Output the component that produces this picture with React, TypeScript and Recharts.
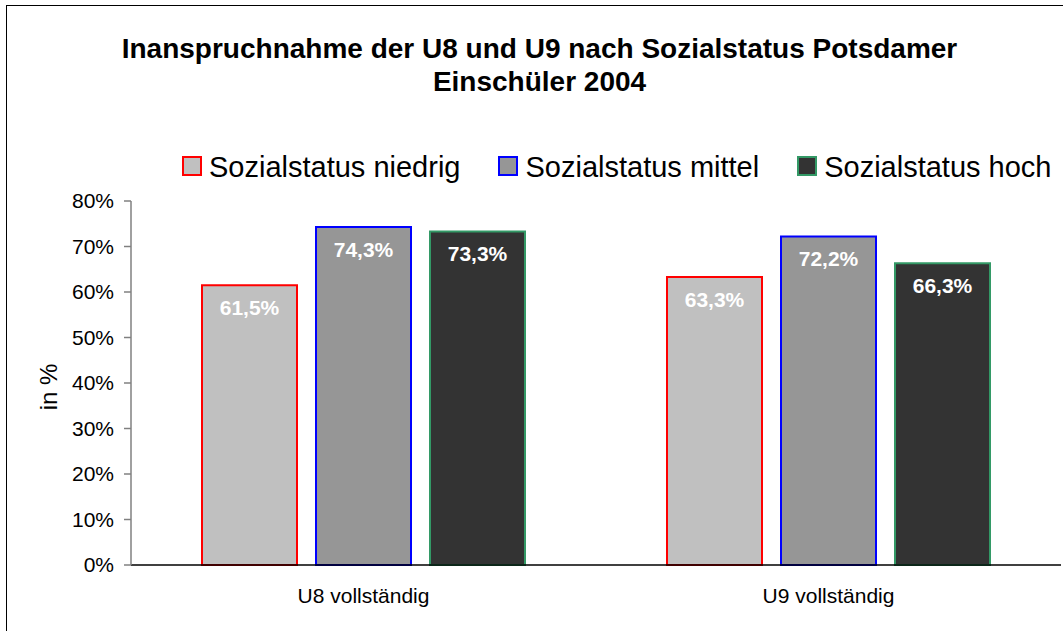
import React from 'react';
import { BarChart, Bar, XAxis, YAxis, Legend, LabelList } from 'recharts';

const categories = ['U8 vollständig', 'U9 vollständig'];
const niedrig = [61.5, 63.3];
const mittel = [74.3, 72.2];
const hoch = [73.3, 66.3];
const seriesNames = ['Sozialstatus niedrig', 'Sozialstatus mittel', 'Sozialstatus hoch'];
const yTicks = [0, 10, 20, 30, 40, 50, 60, 70, 80];

const FONT = '"Liberation Sans", Arial, sans-serif';

const series = [
  { key: 'niedrig', name: seriesNames[0], fill: '#C0C0C0', stroke: '#FF0000' },
  { key: 'mittel', name: seriesNames[1], fill: '#969696', stroke: '#0000FF' },
  { key: 'hoch', name: seriesNames[2], fill: '#333333', stroke: '#339966' },
];

const data = categories.map((name, i) => ({
  name,
  niedrig: niedrig[i],
  mittel: mittel[i],
  hoch: hoch[i],
}));

const fmt = (v: number) => v.toFixed(1).replace('.', ',') + '%';

const LegendContent = () => (
  <div
    style={{
      display: 'flex',
      alignItems: 'center',
      height: 32,
      paddingLeft: 182,
      fontFamily: FONT,
      fontSize: 29,
      lineHeight: '32px',
      color: '#000',
      whiteSpace: 'nowrap',
    }}
  >
    {series.map((s, i) => (
      <div key={s.key} style={{ display: 'flex', alignItems: 'center', marginRight: i < series.length - 1 ? 38 : 0 }}>
        <span
          style={{
            display: 'inline-block',
            width: 16,
            height: 16,
            background: s.fill,
            border: `2px solid ${s.stroke}`,
            marginRight: 7,
            marginTop: -3,
          }}
        />
        <span>{s.name}</span>
      </div>
    ))}
  </div>
);

const YLabel = (props: any) => {
  const vb = props.viewBox || { x: 0, y: 0, width: 0, height: 0 };
  const x = vb.x + 18;
  const y = vb.y + vb.height / 2 + 4;
  return (
    <text
      x={x}
      y={y}
      transform={`rotate(-90 ${x} ${y})`}
      textAnchor="middle"
      dominantBaseline="central"
      fontFamily={FONT}
      fontSize={24}
      fill="#000"
    >
      in %
    </text>
  );
};

export default function App() {
  return (
    <div style={{ position: 'absolute', left: 0, top: 0, width: 1063, height: 631, overflow: 'hidden', background: '#fff' }}>
      <div
        style={{
          position: 'absolute',
          left: 6,
          top: 5,
          width: 1080,
          height: 650,
          border: '1px solid #000',
        }}
      />
      <div
        style={{
          position: 'absolute',
          left: 0,
          top: 32,
          width: 1079,
          textAlign: 'center',
          fontFamily: FONT,
          fontWeight: 'bold',
          fontSize: 28,
          lineHeight: '33px',
          color: '#000',
        }}
      >
        Inanspruchnahme der U8 und U9 nach Sozialstatus Potsdamer
        <br />
        Einschüler 2004
      </div>
      <div style={{ position: 'absolute', left: 0, top: 0 }}>
        <BarChart
          width={1063}
          height={631}
          data={data}
          margin={{ top: 169, right: 2, bottom: 6, left: 30 }}
          barCategoryGap={71}
          barGap={19}
        >
          <XAxis
            dataKey="name"
            height={60}
            tickLine={false}
            tickSize={0}
            tickMargin={23}
            axisLine={{ stroke: '#000', strokeWidth: 1.5 }}
            tick={{ fontFamily: FONT, fontSize: 21, fill: '#000' }}
          />
          <YAxis
            width={101}
            domain={[0, 80]}
            ticks={yTicks}
            interval={0}
            tickFormatter={(v: number) => v + '%'}
            tickSize={7}
            tickMargin={10}
            axisLine={{ stroke: '#808080', strokeWidth: 1.5 }}
            tickLine={{ stroke: '#808080', strokeWidth: 1.5 }}
            tick={{ fontFamily: FONT, fontSize: 21, fill: '#000' }}
            label={<YLabel />}
          />
          <Legend
            verticalAlign="top"
            align="left"
            content={<LegendContent />}
            wrapperStyle={{ left: 0, top: 151, width: 1063, height: 32 }}
          />
          {series.map((s) => (
            <Bar
              key={s.key}
              dataKey={s.key}
              name={s.name}
              fill={s.fill}
              stroke={s.stroke}
              strokeWidth={2}
              isAnimationActive={false}
            >
              <LabelList
                dataKey={s.key}
                position="insideTop"
                offset={15}
                formatter={(v: any) => fmt(Number(v))}
                style={{ fontFamily: FONT, fontSize: 21, fontWeight: 'bold', fill: '#fff' }}
              />
            </Bar>
          ))}
        </BarChart>
      </div>
    </div>
  );
}
